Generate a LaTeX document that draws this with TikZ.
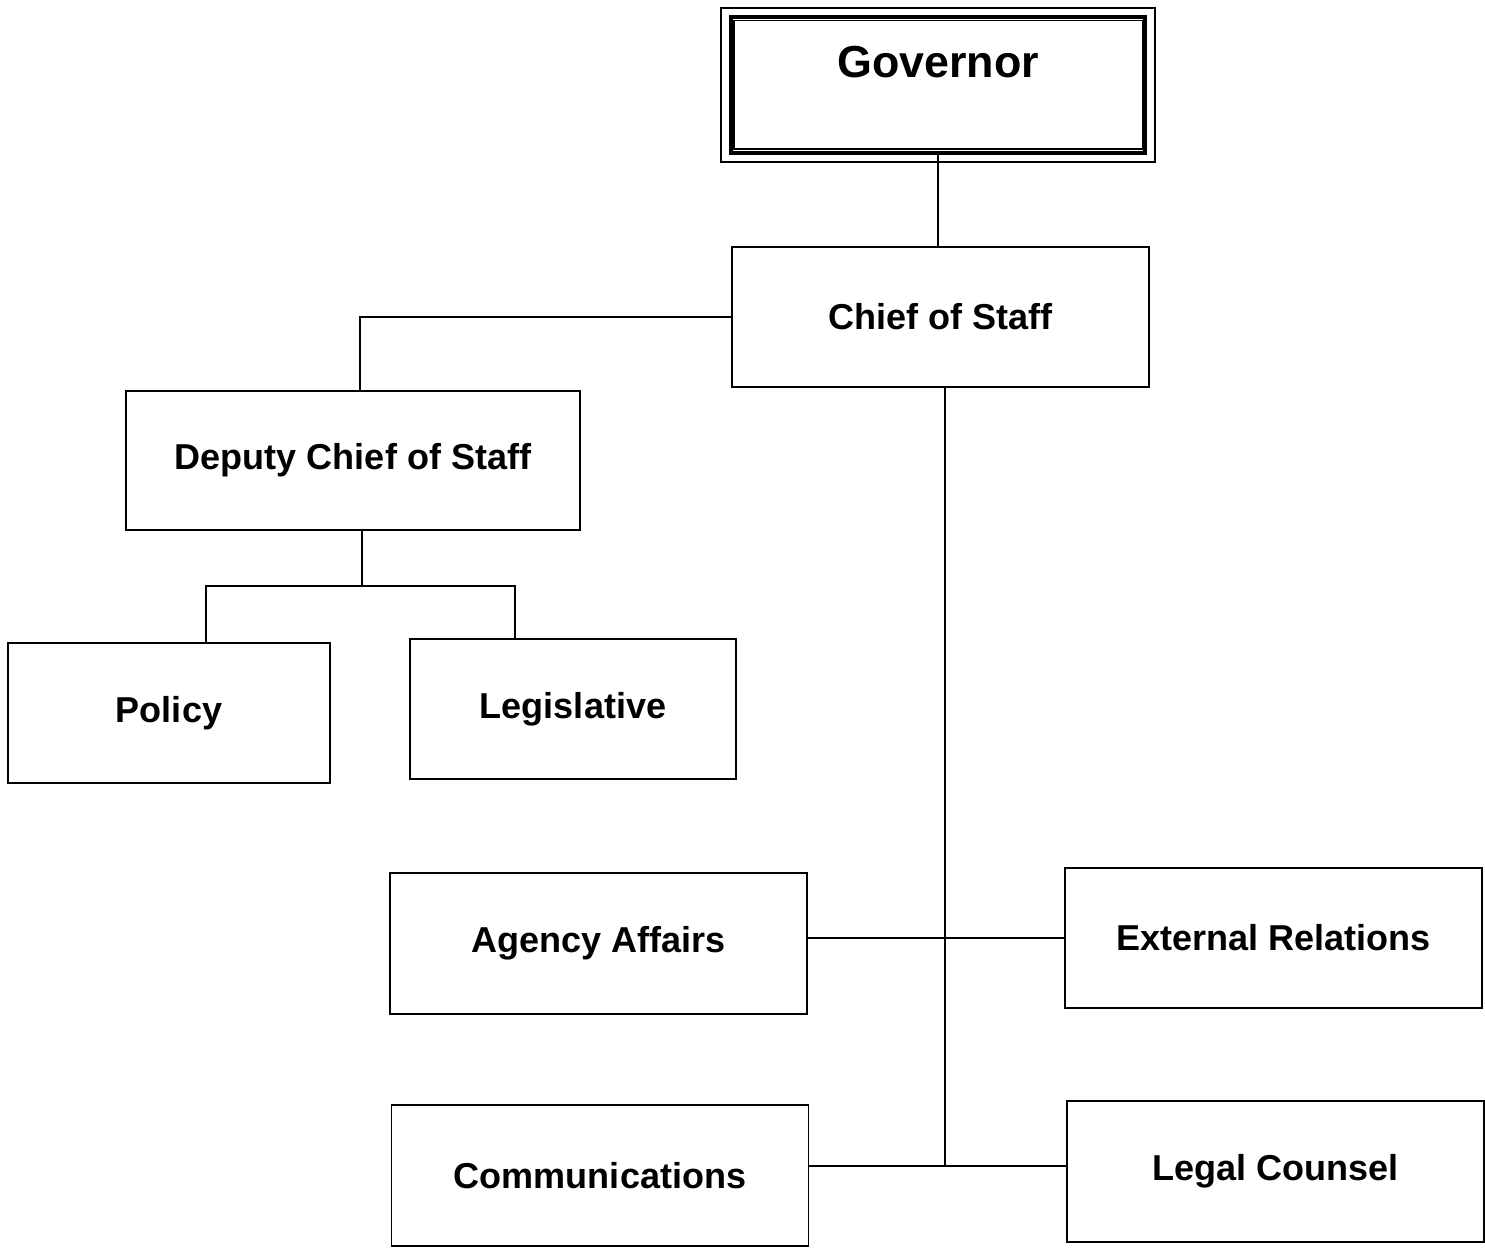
\documentclass[tikz,border=0pt]{standalone}
\usepackage{fontspec}
\setmainfont{Liberation Sans}
\usetikzlibrary{positioning}

\tikzset{
    unit/.style={draw, line width=1.1pt, minimum width=83.4mm, minimum height=28mm,
        inner sep=0pt, font=\fontsize{20.5}{24}\selectfont\bfseries},
    top/.style={draw, line width=2.6pt, minimum width=82.8mm, minimum height=27.2mm,
        inner sep=0pt, text height=18pt, text depth=26.9pt,
        font=\fontsize{25.5}{30}\selectfont\bfseries},
    link/.style={line width=1.1pt}
}

\begin{document}
\begin{tikzpicture}[x=0.2mm, y=-0.2mm]
        \useasboundingbox (0,0) rectangle (1485,1252);
        % Top of the chart
        \node[top] (gov) at (938,85) {Governor};
        \draw[line width=1pt] ([shift={(-8,-7)}]gov.north west) rectangle ([shift={(8,7)}]gov.south east);
        \draw[line width=0.9pt] ([shift={(5,6)}]gov.north west) rectangle ([shift={(-5,-6)}]gov.south east);
        \node[unit] (chief) at (940.5,317) {Chief of Staff};
        % Deputy branch
        \node[unit, minimum width=90.8mm, minimum height=27.8mm] (deputy) at (353,460.5) {Deputy Chief of Staff};
        \node[unit, minimum width=64.4mm] (policy) at (169,713) {Policy};
        \node[unit, minimum width=65.2mm] (legis) at (573,709) {Legislative};
        % Offices under the chief
        \node[unit, minimum height=28.2mm] (agency) at (598.5,943.5) {Agency Affairs};
        \node[unit] (extrel) at (1273.5,938) {External Relations};
        \node[unit, minimum height=28.2mm] (comms) at (600,1175.5) {Communications};
        \node[unit, minimum height=28.2mm] (legal) at (1275.5,1171.5) {Legal Counsel};
        % Connectors
        \coordinate (split) at (362,586);
        \coordinate (bend) at (945,1166);
        \draw[link] (gov.south) -- (gov.south |- chief.north);
        \draw[link] ([yshift=0pt]chief.west) -| ([shift={(7,0)}]deputy.north);
        \draw[link] (split |- deputy.south) -- (split);
        \draw[link] ([shift={(37,0)}]policy.north) |- (split) -| ([shift={(-58,0)}]legis.north);
        \draw[link] (chief.south -| bend) -- (bend);
        \draw[link] (agency.east |- extrel.west) -- (extrel.west);
        \draw[link] (comms.east |- bend) -- (bend) -- (legal.west |- bend);
    \end{tikzpicture}
\end{document}
